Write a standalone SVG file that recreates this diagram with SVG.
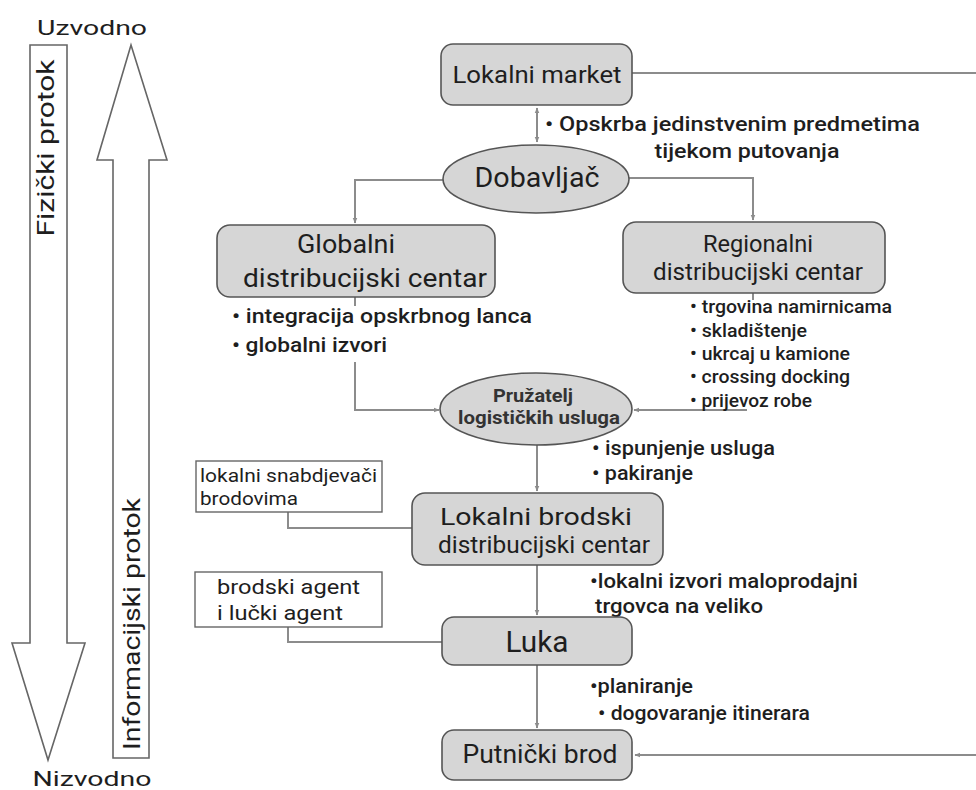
<svg xmlns="http://www.w3.org/2000/svg" width="976" height="790" viewBox="0 0 976 790">
<defs>
<marker id="ah" viewBox="0 0 10 10" refX="9" refY="5" markerWidth="6" markerHeight="6" orient="auto-start-reverse" markerUnits="userSpaceOnUse">
<path d="M0,1 L10,5 L0,9 z" fill="#8c8c8c"/>
</marker>
<style>
text{font-family:Roboto,"Liberation Sans",sans-serif;fill:#1e1e1e}
.box{fill:#d6d6d6;stroke:#555;stroke-width:1.6}
.wbox{fill:#fff;stroke:#666;stroke-width:1.4}
.big{stroke:#666;stroke-width:1.6;fill:#fff}
.con{fill:none;stroke:#8c8c8c;stroke-width:2}
.arr{marker-end:url(#ah)}
.m{text-anchor:middle}
.note{font-size:20px;font-weight:500}
.sm{font-size:18px;font-weight:500}
</style>
</defs>
<rect width="976" height="790" fill="#fff"/>

<g id="flow-arrows">
<text class="m" x="92" y="35" font-size="21" textLength="110" lengthAdjust="spacingAndGlyphs">Uzvodno</text>
<polygon class="big" points="30,45 67,45 67,643 85,643 48,760 12,643 30,643"/>
<text class="m" transform="translate(54,148) rotate(-90)" font-size="24" textLength="177" lengthAdjust="spacingAndGlyphs">Fizički protok</text>
<polygon class="big" points="131,45 167,160 149,160 149,758 113,758 113,160 97,160"/>
<text class="m" transform="translate(140,624) rotate(-90)" font-size="24" textLength="252" lengthAdjust="spacingAndGlyphs">Informacijski protok</text>
<text class="m" x="92" y="786" font-size="21" textLength="119" lengthAdjust="spacingAndGlyphs">Nizvodno</text>
</g>

<g id="connectors">
<path class="con" d="M537,108 L537,142" marker-start="url(#ah)" marker-end="url(#ah)"/>
<path class="con" d="M632,73 L980,73 L980,755 L635,755" marker-end="url(#ah)"/>
<path class="con arr" d="M443,180 L355,180 L355,223"/>
<path class="con arr" d="M628,178 L753,178 L753,220"/>
<path class="con" d="M355,297 L355,306"/>
<path class="con arr" d="M355,362 L355,410 L439,410"/>
<path class="con" d="M753,293 L753,300"/>
<path class="con arr" d="M747,410 L634,410"/>
<path class="con arr" d="M537,445 L537,491"/>
<path class="con" d="M288,512 L288,528 L412,528"/>
<path class="con arr" d="M537,565 L537,615"/>
<path class="con" d="M288,627 L288,642 L442,642"/>
<path class="con arr" d="M537,665 L537,728"/>
</g>

<g id="lokalni-market">
<rect class="box" x="441" y="44" width="191" height="61" rx="12"/>
<text class="m" x="537" y="83" font-size="24" textLength="169" lengthAdjust="spacingAndGlyphs">Lokalni market</text>
</g>
<g id="opskrba-note">
<text class="note" x="545" y="131" textLength="375" lengthAdjust="spacingAndGlyphs">• Opskrba jedinstvenim predmetima</text>
<text class="note m" x="747" y="158" textLength="185" lengthAdjust="spacingAndGlyphs">tijekom putovanja</text>
</g>
<g id="dobavljac">
<ellipse class="box" cx="536" cy="179" rx="93" ry="34"/>
<text class="m" x="537" y="187" font-size="27" textLength="125" lengthAdjust="spacingAndGlyphs">Dobavljač</text>
</g>
<g id="globalni">
<rect class="box" x="217" y="225" width="278" height="72" rx="13"/>
<text class="m" x="346" y="253" font-size="25" textLength="98" lengthAdjust="spacingAndGlyphs">Globalni</text>
<text class="m" x="365" y="287" font-size="25" textLength="244" lengthAdjust="spacingAndGlyphs">distribucijski centar</text>
</g>
<g id="globalni-note">
<text class="note" x="232" y="323" textLength="300" lengthAdjust="spacingAndGlyphs">• integracija opskrbnog lanca</text>
<text class="note" x="232" y="352" textLength="155" lengthAdjust="spacingAndGlyphs">• globalni izvori</text>
</g>
<g id="regionalni">
<rect class="box" x="623" y="222" width="262" height="71" rx="13"/>
<text class="m" x="758" y="252" font-size="23" textLength="110" lengthAdjust="spacingAndGlyphs">Regionalni</text>
<text class="m" x="758" y="280" font-size="23" textLength="210" lengthAdjust="spacingAndGlyphs">distribucijski centar</text>
</g>
<g id="regionalni-note">
<text class="sm" x="690" y="313" textLength="202" lengthAdjust="spacingAndGlyphs">• trgovina namirnicama</text>
<text class="sm" x="690" y="337" textLength="117" lengthAdjust="spacingAndGlyphs">• skladištenje</text>
<text class="sm" x="690" y="360" textLength="160" lengthAdjust="spacingAndGlyphs">• ukrcaj u kamione</text>
<text class="sm" x="690" y="383" textLength="160" lengthAdjust="spacingAndGlyphs">• crossing docking</text>
<text class="sm" x="690" y="407" textLength="122" lengthAdjust="spacingAndGlyphs">• prijevoz robe</text>
</g>
<g id="pruzatelj">
<ellipse class="box" cx="536" cy="409" rx="96" ry="36"/>
<text class="m" x="533" y="402" font-size="18" font-weight="bold" textLength="80" lengthAdjust="spacingAndGlyphs" style="fill:#333">Pružatelj</text>
<text class="m" x="539" y="424" font-size="19" font-weight="bold" textLength="162" lengthAdjust="spacingAndGlyphs" style="fill:#333">logističkih usluga</text>
</g>
<g id="pruzatelj-note">
<text class="note" x="592" y="455" textLength="183" lengthAdjust="spacingAndGlyphs">• ispunjenje usluga</text>
<text class="note" x="592" y="480" textLength="101" lengthAdjust="spacingAndGlyphs">• pakiranje</text>
</g>
<g id="snabdjevaci">
<rect class="wbox" x="196" y="461" width="186" height="51"/>
<text x="200" y="482" font-size="19" textLength="177" lengthAdjust="spacingAndGlyphs">lokalni snabdjevači</text>
<text x="200" y="505" font-size="19" textLength="98" lengthAdjust="spacingAndGlyphs">brodovima</text>
</g>
<g id="lokalni-brodski">
<rect class="box" x="412" y="493" width="251" height="72" rx="13"/>
<text class="m" x="536" y="525" font-size="24" textLength="192" lengthAdjust="spacingAndGlyphs">Lokalni brodski</text>
<text class="m" x="544" y="553" font-size="24" textLength="212" lengthAdjust="spacingAndGlyphs">distribucijski centar</text>
</g>
<g id="brodski-note">
<text class="note" x="590" y="588" textLength="268" lengthAdjust="spacingAndGlyphs">•lokalni izvori maloprodajni</text>
<text class="note" x="595" y="613" textLength="168" lengthAdjust="spacingAndGlyphs">trgovca na veliko</text>
</g>
<g id="agent">
<rect class="wbox" x="195" y="572" width="187" height="55"/>
<text x="217" y="594" font-size="21" textLength="143" lengthAdjust="spacingAndGlyphs">brodski agent</text>
<text x="217" y="620" font-size="21" textLength="126" lengthAdjust="spacingAndGlyphs">i lučki agent</text>
</g>
<g id="luka">
<rect class="box" x="442" y="617" width="190" height="48" rx="12"/>
<text class="m" x="537" y="652" font-size="30" textLength="63" lengthAdjust="spacingAndGlyphs">Luka</text>
</g>
<g id="luka-note">
<text class="note" x="590" y="693" textLength="103" lengthAdjust="spacingAndGlyphs">•planiranje</text>
<text class="note" x="598" y="720" textLength="212" lengthAdjust="spacingAndGlyphs">• dogovaranje itinerara</text>
</g>
<g id="putnicki-brod">
<rect class="box" x="442" y="730" width="190" height="50" rx="12"/>
<text class="m" x="540" y="763" font-size="25" textLength="155" lengthAdjust="spacingAndGlyphs">Putnički brod</text>
</g>
</svg>
